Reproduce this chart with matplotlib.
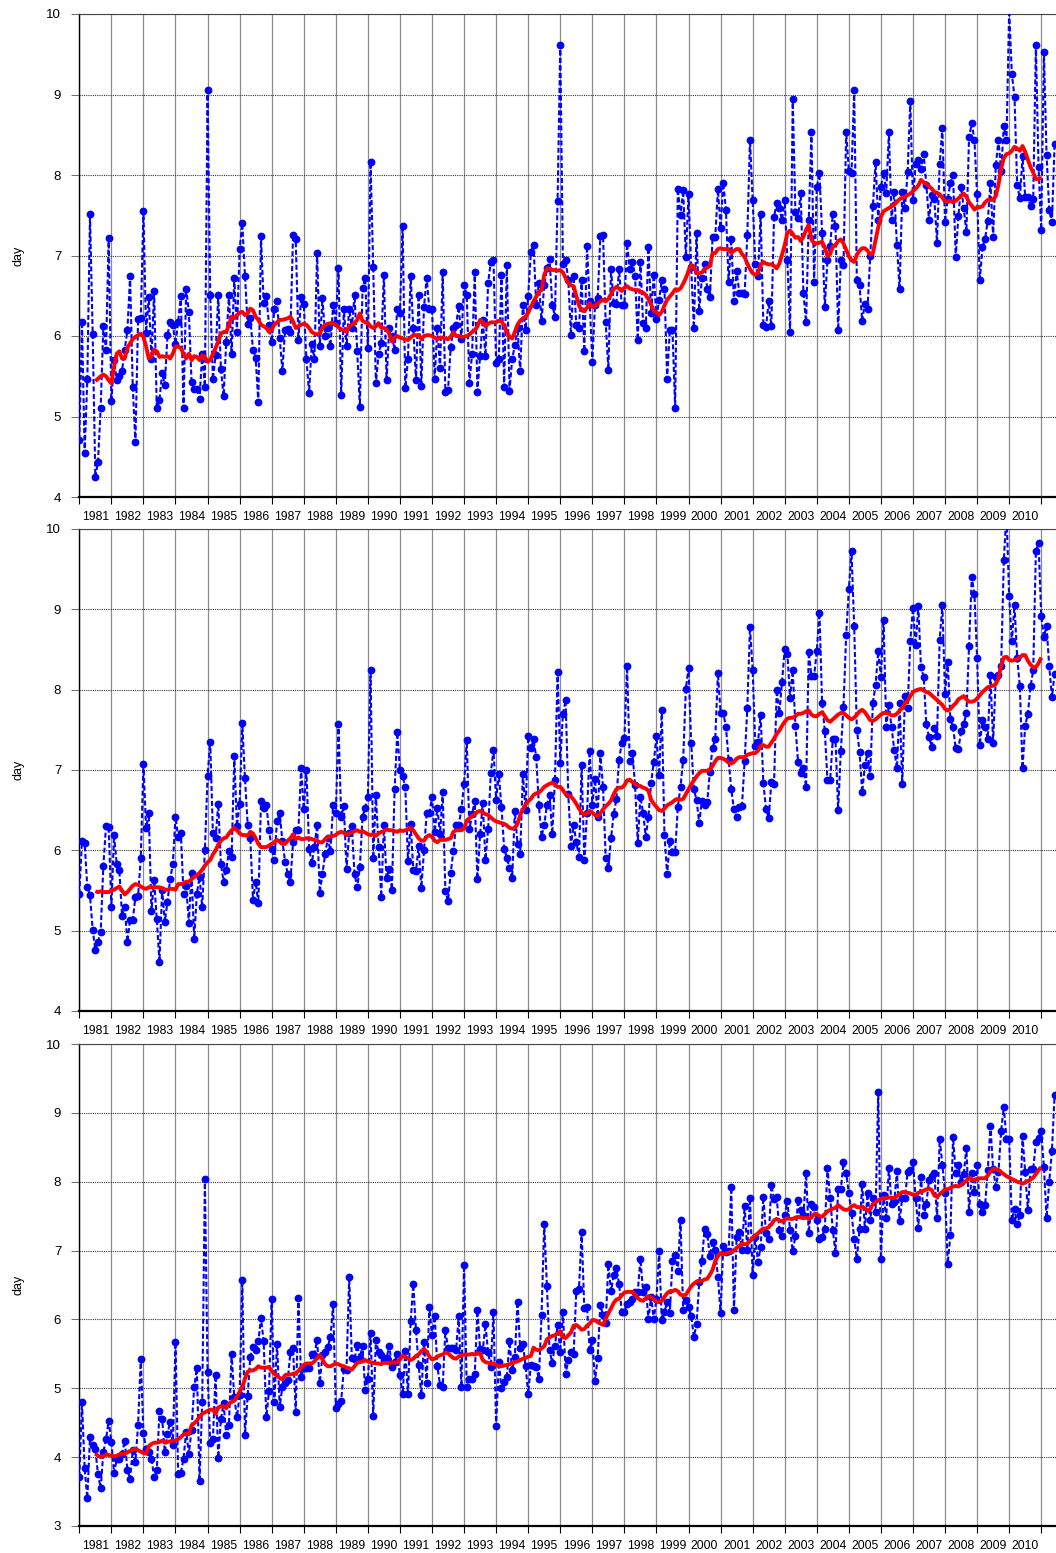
import numpy as np
import matplotlib
matplotlib.use("Agg")
from matplotlib import pyplot as plt
from matplotlib.ticker import FixedLocator, NullFormatter

plt.rcParams['font.family'] = ['Liberation Sans', 'DejaVu Sans']

# monthly values, Jan 1981 .. Jun 2011, one row per year
top_vals = [
    4.71, 6.18, 4.55, 5.46, 7.51, 6.03, 4.25, 4.44, 5.11, 6.12, 5.83, 7.22,
    5.19, 5.70, 5.45, 5.50, 5.57, 5.83, 6.07, 6.74, 5.37, 4.68, 6.21, 6.22,
    7.55, 6.04, 6.49, 5.71, 6.56, 5.10, 5.21, 5.54, 5.39, 6.01, 6.18, 6.14,
    5.90, 6.18, 6.50, 5.11, 6.59, 6.30, 5.43, 5.34, 5.34, 5.22, 5.78, 5.37,
    9.05, 6.51, 5.46, 5.76, 6.51, 5.59, 5.25, 5.93, 6.51, 5.78, 6.72, 6.05,
    7.08, 7.40, 6.75, 6.15, 6.22, 5.83, 5.73, 5.18, 7.24, 6.41, 6.50, 6.14,
    5.92, 6.34, 6.43, 5.97, 5.57, 6.07, 6.09, 6.05, 7.26, 7.20, 5.95, 6.48,
    6.40, 5.71, 5.29, 5.90, 5.72, 7.03, 5.87, 6.47, 6.00, 6.10, 5.87, 6.39,
    6.16, 6.84, 5.27, 6.34, 5.87, 6.34, 6.10, 6.51, 5.81, 5.12, 6.60, 6.72,
    5.85, 8.16, 6.86, 5.41, 5.78, 5.91, 6.76, 5.45, 6.10, 6.00, 5.83, 6.34,
    6.28, 7.37, 5.35, 5.72, 6.74, 6.10, 5.45, 6.51, 5.38, 6.36, 6.72, 6.34,
    6.34, 5.47, 6.10, 5.60, 6.79, 5.31, 5.33, 5.86, 6.10, 6.14, 6.37, 5.96,
    6.63, 6.51, 5.42, 5.78, 6.80, 5.31, 5.75, 6.20, 5.75, 6.66, 6.92, 6.95,
    5.67, 5.72, 6.76, 5.37, 6.88, 5.32, 5.71, 5.89, 6.10, 5.56, 6.39, 6.08,
    6.50, 7.04, 7.13, 6.39, 6.66, 6.19, 6.63, 6.84, 6.96, 6.39, 6.24, 7.68,
    9.61, 6.90, 6.94, 6.70, 6.01, 6.74, 6.14, 6.10, 6.70, 5.81, 7.12, 6.43,
    5.68, 6.39, 6.47, 7.24, 7.26, 6.17, 5.58, 6.83, 6.41, 6.40, 6.83, 6.39,
    6.39, 7.15, 6.83, 6.92, 6.75, 5.95, 6.92, 6.16, 6.10, 7.10, 6.28, 6.76,
    6.21, 6.45, 6.70, 6.59, 5.47, 6.07, 6.07, 5.10, 7.83, 7.50, 7.81, 6.98,
    7.76, 6.86, 6.10, 7.28, 6.31, 6.72, 6.90, 6.59, 6.48, 7.23, 7.23, 7.82,
    7.34, 7.90, 7.57, 6.67, 7.21, 6.43, 6.81, 6.54, 6.53, 6.52, 7.25, 8.44,
    7.69, 6.90, 6.75, 7.51, 6.14, 6.11, 6.43, 6.12, 7.48, 7.65, 7.59, 7.44,
    7.69, 6.94, 6.05, 8.95, 7.54, 7.47, 7.78, 6.53, 6.17, 7.44, 8.53, 6.67,
    7.85, 8.02, 7.28, 6.36, 6.95, 7.12, 7.52, 7.37, 6.07, 6.94, 6.88, 8.54,
    8.05, 8.03, 9.05, 6.69, 6.63, 6.19, 6.40, 6.34, 6.99, 7.61, 8.16, 7.44,
    7.85, 8.03, 7.78, 8.53, 7.44, 7.79, 7.13, 6.58, 7.79, 7.59, 8.04, 8.92,
    7.69, 8.14, 8.19, 8.08, 8.26, 7.88, 7.44, 7.75, 7.70, 7.16, 8.14, 8.58,
    7.41, 7.70, 7.90, 8.00, 6.98, 7.49, 7.85, 7.59, 7.29, 8.47, 8.64, 8.44,
    7.76, 6.69, 7.10, 7.21, 7.43, 7.90, 7.23, 8.12, 8.43, 8.05, 8.61, 8.43,
    10.05, 9.26, 8.97, 7.87, 7.71, 8.23, 7.73, 7.73, 7.61, 7.70, 9.61, 8.10,
    7.32, 9.53, 8.25, 7.56, 7.41, 8.39,
]

mid_vals = [
    5.46, 6.12, 6.09, 5.54, 5.44, 5.01, 4.76, 4.86, 4.98, 5.81, 6.30, 6.29,
    5.30, 6.19, 5.83, 5.75, 5.18, 5.29, 4.86, 5.13, 5.13, 5.42, 5.43, 5.90,
    7.07, 6.28, 6.46, 5.25, 5.63, 5.14, 4.61, 5.51, 5.11, 5.36, 5.64, 5.83,
    6.42, 6.16, 6.22, 5.46, 5.55, 5.10, 5.72, 4.90, 5.46, 5.67, 5.29, 6.00,
    6.92, 7.35, 6.21, 6.15, 6.58, 5.83, 5.61, 5.76, 5.99, 5.92, 7.17, 6.30,
    6.58, 7.58, 6.90, 6.32, 6.15, 5.38, 5.61, 5.34, 6.62, 6.53, 6.57, 6.25,
    6.02, 5.88, 6.37, 6.46, 6.12, 5.86, 5.71, 5.61, 6.10, 6.25, 6.25, 7.02,
    6.51, 7.00, 6.02, 5.84, 6.04, 6.32, 5.47, 5.71, 5.95, 6.15, 5.99, 6.57,
    6.46, 7.57, 6.42, 6.55, 5.77, 6.21, 6.30, 5.71, 5.54, 5.79, 6.42, 6.53,
    6.66, 8.25, 5.90, 6.69, 6.04, 5.42, 6.32, 5.65, 5.77, 5.51, 6.76, 7.47,
    7.00, 6.92, 6.79, 5.87, 6.33, 5.76, 5.74, 6.06, 5.53, 6.00, 6.46, 6.46,
    6.66, 6.23, 6.53, 6.20, 6.72, 5.49, 5.37, 5.72, 5.99, 6.32, 6.32, 6.51,
    6.83, 7.37, 6.26, 6.45, 6.62, 5.64, 6.20, 6.59, 5.88, 6.26, 6.96, 7.25,
    6.63, 6.95, 6.54, 6.02, 5.91, 5.78, 5.65, 6.49, 6.08, 5.95, 6.95, 6.50,
    7.42, 7.27, 7.38, 7.16, 6.56, 6.17, 6.32, 6.56, 6.69, 6.20, 6.87, 8.22,
    7.09, 7.70, 7.87, 6.70, 6.06, 6.32, 6.10, 5.92, 7.06, 5.88, 6.46, 7.24,
    6.56, 6.89, 6.42, 7.21, 6.79, 5.91, 5.78, 6.15, 6.45, 6.64, 7.12, 7.34,
    7.40, 8.29, 7.11, 7.21, 6.81, 6.09, 6.67, 6.46, 6.17, 6.42, 6.84, 7.10,
    7.42, 6.94, 7.75, 6.19, 5.70, 6.12, 5.98, 5.98, 6.54, 6.79, 7.13, 8.01,
    8.27, 7.34, 6.76, 6.63, 6.34, 6.62, 6.57, 6.60, 6.98, 7.28, 7.38, 8.21,
    7.71, 7.71, 7.54, 7.13, 6.76, 6.51, 6.42, 6.54, 6.55, 7.11, 7.77, 8.78,
    8.25, 7.30, 7.35, 7.68, 6.84, 6.52, 6.40, 6.85, 6.82, 8.00, 7.71, 8.10,
    8.51, 8.45, 7.90, 8.24, 7.55, 7.10, 6.96, 7.02, 6.79, 8.47, 8.17, 8.17,
    8.48, 8.96, 7.83, 7.49, 6.87, 6.87, 7.39, 7.38, 6.50, 7.24, 7.79, 8.68,
    9.25, 9.72, 8.79, 7.50, 7.23, 6.72, 7.06, 7.21, 6.92, 7.84, 8.06, 8.48,
    8.16, 8.87, 7.54, 7.81, 7.53, 7.25, 7.02, 7.83, 6.83, 7.92, 7.77, 8.61,
    9.02, 8.55, 9.04, 8.28, 8.16, 7.57, 7.41, 7.29, 7.52, 7.42, 8.62, 9.05,
    7.95, 8.35, 7.63, 7.53, 7.27, 7.26, 7.48, 7.57, 7.71, 8.54, 9.40, 9.19,
    8.40, 7.31, 7.62, 7.53, 7.39, 8.18, 7.34, 8.16, 8.18, 8.30, 9.61, 10.2,
    9.16, 8.60, 9.05, 8.40, 8.04, 7.02, 7.55, 7.70, 8.04, 8.24, 9.72, 9.83,
    8.92, 8.66, 8.79, 8.29, 7.91, 8.20,
]

low_vals = [
    3.71, 4.80, 3.84, 3.40, 4.29, 4.18, 4.12, 3.75, 3.55, 4.07, 4.26, 4.53,
    4.22, 3.77, 3.97, 3.98, 4.05, 4.24, 3.82, 3.68, 4.10, 3.93, 4.47, 5.43,
    4.35, 4.12, 4.07, 3.98, 3.71, 3.81, 4.67, 4.56, 4.07, 4.34, 4.51, 4.17,
    5.67, 3.75, 3.77, 3.98, 4.37, 4.05, 4.39, 5.02, 5.29, 3.65, 4.80, 8.04,
    5.24, 4.20, 4.26, 5.19, 3.99, 4.55, 4.78, 4.32, 4.47, 5.50, 4.87, 4.58,
    4.90, 6.57, 4.32, 4.89, 5.46, 5.60, 5.55, 5.68, 6.02, 5.68, 4.58, 4.96,
    6.30, 4.80, 5.65, 4.73, 5.02, 5.07, 5.12, 5.52, 5.58, 4.66, 6.31, 5.16,
    5.29, 5.29, 5.30, 5.50, 5.49, 5.70, 5.08, 5.48, 5.53, 5.60, 5.75, 6.22,
    4.72, 4.77, 4.81, 5.28, 5.26, 6.62, 5.44, 5.42, 5.63, 5.44, 5.62, 4.97,
    5.14, 5.81, 4.60, 5.70, 5.53, 5.48, 5.41, 5.44, 5.62, 5.31, 5.38, 5.50,
    5.19, 4.91, 5.54, 4.91, 5.97, 6.51, 5.84, 5.34, 4.90, 5.67, 5.07, 6.18,
    5.77, 6.05, 5.32, 5.05, 5.02, 5.84, 5.58, 5.58, 5.58, 5.55, 6.05, 5.02,
    6.79, 5.02, 5.14, 5.14, 5.21, 6.13, 5.57, 5.55, 5.93, 5.52, 5.31, 6.11,
    4.45, 5.38, 5.00, 5.09, 5.16, 5.68, 5.26, 5.46, 6.26, 5.58, 5.65, 5.33,
    4.92, 5.34, 5.33, 5.31, 5.14, 6.07, 7.39, 6.49, 5.55, 5.37, 5.62, 5.92,
    5.53, 6.11, 5.21, 5.41, 5.52, 5.50, 6.42, 6.44, 7.27, 6.16, 6.18, 5.55,
    5.70, 5.11, 5.44, 6.21, 6.06, 5.95, 6.80, 6.41, 6.65, 6.74, 6.52, 6.11,
    6.11, 6.22, 6.26, 6.29, 6.40, 6.40, 6.88, 6.40, 6.47, 6.00, 6.33, 6.00,
    6.30, 6.99, 5.99, 6.11, 6.25, 6.10, 6.85, 6.93, 6.70, 7.44, 6.13, 6.28,
    6.18, 6.05, 5.75, 5.93, 6.54, 6.85, 7.31, 7.24, 6.92, 7.12, 7.01, 6.62,
    6.10, 7.07, 6.98, 6.99, 7.92, 6.13, 7.19, 7.27, 7.01, 7.65, 7.01, 7.76,
    6.65, 7.19, 6.84, 7.05, 7.78, 7.25, 7.17, 7.95, 7.75, 7.78, 7.30, 7.21,
    7.51, 7.72, 7.30, 6.99, 7.21, 7.74, 7.59, 7.51, 8.12, 7.25, 7.68, 7.64,
    7.44, 7.17, 7.20, 7.32, 8.20, 7.77, 7.30, 6.97, 7.89, 7.89, 8.28, 8.13,
    7.83, 7.55, 7.17, 6.88, 7.31, 7.97, 7.31, 7.83, 7.44, 7.77, 7.56, 9.31,
    6.88, 7.81, 7.48, 8.20, 7.68, 7.71, 8.15, 7.43, 7.77, 7.76, 8.14, 8.17,
    8.29, 7.76, 7.33, 8.07, 7.51, 7.68, 8.02, 8.09, 8.13, 7.47, 8.62, 8.25,
    7.84, 6.81, 7.22, 8.65, 8.13, 8.25, 8.00, 8.11, 8.49, 7.56, 8.13, 7.85,
    8.24, 7.68, 7.56, 7.66, 8.17, 8.81, 8.18, 7.93, 8.14, 8.74, 9.09, 8.62,
    8.62, 7.44, 7.61, 7.38, 7.51, 8.66, 8.14, 7.59, 8.18, 8.18, 8.57, 8.64,
    8.73, 8.22, 7.47, 8.00, 8.44, 9.26,
]

# 12-month running mean as drawn, months 7 .. 361 (Jul 1981 .. Jan 2011)
top_avg = [
    5.44, 5.47, 5.50, 5.52, 5.50, 5.45, 5.41, 5.62, 5.78, 5.81, 5.72, 5.72,
    5.85, 5.91, 5.96, 5.99, 6.01, 6.03, 5.99, 5.87, 5.72, 5.75, 5.83, 5.81,
    5.74, 5.75, 5.74, 5.75, 5.72, 5.78, 5.87, 5.87, 5.85, 5.78, 5.72, 5.78,
    5.70, 5.75, 5.74, 5.70, 5.76, 5.74, 5.68, 5.70, 5.78, 5.85, 5.93, 6.03,
    6.05, 6.05, 6.14, 6.24, 6.22, 6.26, 6.29, 6.30, 6.26, 6.28, 6.34, 6.32,
    6.24, 6.20, 6.14, 6.12, 6.10, 6.05, 6.08, 6.14, 6.17, 6.20, 6.20, 6.21,
    6.22, 6.24, 6.18, 6.10, 6.12, 6.14, 6.15, 6.14, 6.10, 6.05, 6.03, 6.02,
    6.03, 6.10, 6.14, 6.15, 6.16, 6.16, 6.14, 6.11, 6.08, 6.07, 6.05, 6.12,
    6.14, 6.16, 6.20, 6.28, 6.19, 6.17, 6.16, 6.12, 6.10, 6.12, 6.16, 6.10,
    6.10, 6.08, 6.03, 5.93, 5.98, 6.00, 5.98, 5.97, 5.96, 5.95, 5.98, 6.01,
    6.01, 6.01, 5.96, 6.00, 6.01, 6.01, 6.00, 5.98, 5.96, 5.98, 5.98, 5.97,
    5.96, 5.99, 6.05, 6.00, 6.00, 5.99, 5.99, 6.00, 6.02, 6.05, 6.07, 6.12,
    6.20, 6.18, 6.12, 6.15, 6.17, 6.17, 6.17, 6.19, 6.18, 6.13, 6.05, 5.99,
    5.97, 6.05, 6.14, 6.19, 6.22, 6.24, 6.29, 6.36, 6.43, 6.49, 6.55, 6.57,
    6.76, 6.84, 6.84, 6.82, 6.82, 6.81, 6.82, 6.79, 6.72, 6.66, 6.63, 6.62,
    6.50, 6.38, 6.32, 6.31, 6.35, 6.41, 6.36, 6.37, 6.40, 6.43, 6.45, 6.43,
    6.46, 6.52, 6.58, 6.61, 6.59, 6.56, 6.60, 6.62, 6.59, 6.58, 6.57, 6.57,
    6.55, 6.54, 6.51, 6.46, 6.39, 6.31, 6.30, 6.26, 6.30, 6.38, 6.45, 6.49,
    6.53, 6.58, 6.57, 6.59, 6.65, 6.72, 6.81, 6.88, 6.86, 6.78, 6.78, 6.79,
    6.83, 6.85, 6.87, 7.03, 7.03, 7.08, 7.09, 7.08, 7.08, 7.08, 7.03, 7.06,
    7.08, 7.08, 7.02, 6.98, 6.90, 6.83, 6.78, 6.76, 6.78, 6.88, 6.92, 6.90,
    6.89, 6.89, 6.87, 6.84, 6.90, 7.01, 7.13, 7.28, 7.31, 7.27, 7.22, 7.23,
    7.18, 7.23, 7.32, 7.38, 7.20, 7.15, 7.15, 7.16, 7.17, 7.10, 6.99, 7.02,
    7.11, 7.13, 7.18, 7.20, 7.15, 7.07, 6.99, 6.94, 6.92, 7.01, 7.06, 7.09,
    7.09, 7.06, 7.01, 7.03, 7.19, 7.35, 7.48, 7.55, 7.57, 7.59, 7.61, 7.63,
    7.67, 7.70, 7.72, 7.73, 7.75, 7.77, 7.80, 7.83, 7.87, 7.94, 7.91, 7.89,
    7.86, 7.83, 7.79, 7.78, 7.76, 7.72, 7.67, 7.67, 7.68, 7.66, 7.68, 7.71,
    7.74, 7.77, 7.73, 7.66, 7.62, 7.57, 7.60, 7.60, 7.61, 7.66, 7.69, 7.69,
    7.69, 7.74, 7.88, 8.08, 8.21, 8.26, 8.27, 8.30, 8.35, 8.33, 8.30, 8.36,
    8.29, 8.19, 8.10, 8.03, 7.95, 7.95, 7.97,
]

mid_avg = [
    5.49, 5.48, 5.49, 5.48, 5.48, 5.48, 5.50, 5.51, 5.53, 5.55, 5.50, 5.45,
    5.48, 5.52, 5.56, 5.58, 5.57, 5.55, 5.53, 5.52, 5.54, 5.54, 5.54, 5.54,
    5.54, 5.53, 5.51, 5.51, 5.52, 5.52, 5.51, 5.58, 5.58, 5.59, 5.61, 5.61,
    5.64, 5.67, 5.69, 5.72, 5.76, 5.81, 5.85, 5.88, 5.95, 6.00, 6.07, 6.12,
    6.15, 6.16, 6.21, 6.25, 6.28, 6.25, 6.21, 6.19, 6.19, 6.18, 6.23, 6.21,
    6.15, 6.08, 6.04, 6.04, 6.04, 6.06, 6.08, 6.10, 6.13, 6.11, 6.08, 6.08,
    6.12, 6.15, 6.20, 6.14, 6.16, 6.14, 6.14, 6.15, 6.15, 6.14, 6.13, 6.12,
    6.10, 6.10, 6.14, 6.17, 6.17, 6.18, 6.19, 6.22, 6.23, 6.22, 6.19, 6.21,
    6.22, 6.24, 6.25, 6.23, 6.24, 6.22, 6.20, 6.19, 6.20, 6.18, 6.21, 6.23,
    6.24, 6.26, 6.25, 6.25, 6.24, 6.23, 6.25, 6.24, 6.25, 6.26, 6.28, 6.25,
    6.20, 6.15, 6.12, 6.12, 6.17, 6.19, 6.17, 6.12, 6.10, 6.13, 6.13, 6.13,
    6.14, 6.15, 6.23, 6.25, 6.25, 6.25, 6.27, 6.37, 6.40, 6.43, 6.45, 6.48,
    6.49, 6.47, 6.45, 6.44, 6.41, 6.38, 6.36, 6.35, 6.34, 6.33, 6.31, 6.28,
    6.27, 6.28, 6.33, 6.44, 6.51, 6.57, 6.61, 6.64, 6.69, 6.71, 6.72, 6.75,
    6.79, 6.81, 6.83, 6.84, 6.82, 6.79, 6.79, 6.75, 6.70, 6.68, 6.67, 6.63,
    6.58, 6.52, 6.47, 6.44, 6.46, 6.49, 6.47, 6.44, 6.42, 6.46, 6.51, 6.55,
    6.58, 6.62, 6.70, 6.76, 6.78, 6.78, 6.81, 6.87, 6.88, 6.85, 6.83, 6.81,
    6.80, 6.78, 6.77, 6.74, 6.63, 6.58, 6.54, 6.50, 6.49, 6.52, 6.56, 6.58,
    6.60, 6.63, 6.64, 6.63, 6.64, 6.70, 6.76, 6.82, 6.87, 6.92, 6.96, 6.99,
    6.99, 6.99, 7.01, 7.05, 7.11, 7.15, 7.15, 7.14, 7.12, 7.09, 7.08, 7.10,
    7.14, 7.16, 7.16, 7.16, 7.19, 7.20, 7.21, 7.21, 7.24, 7.30, 7.31, 7.29,
    7.29, 7.34, 7.39, 7.45, 7.49, 7.55, 7.60, 7.64, 7.65, 7.65, 7.67, 7.70,
    7.70, 7.71, 7.73, 7.74, 7.69, 7.67, 7.67, 7.70, 7.72, 7.67, 7.62, 7.60,
    7.63, 7.66, 7.69, 7.71, 7.71, 7.68, 7.65, 7.63, 7.65, 7.69, 7.73, 7.75,
    7.72, 7.67, 7.62, 7.61, 7.63, 7.66, 7.69, 7.71, 7.71, 7.70, 7.68, 7.68,
    7.70, 7.74, 7.77, 7.83, 7.86, 7.92, 7.97, 7.99, 8.00, 8.01, 7.99, 7.97,
    7.96, 7.93, 7.90, 7.87, 7.84, 7.81, 7.76, 7.74, 7.76, 7.80, 7.83, 7.88,
    7.90, 7.92, 7.88, 7.85, 7.85, 7.86, 7.89, 7.93, 7.97, 8.00, 8.03, 8.04,
    8.05, 8.07, 8.14, 8.30, 8.40, 8.41, 8.37, 8.36, 8.37, 8.38, 8.40, 8.43,
    8.43, 8.36, 8.31, 8.28, 8.28, 8.33, 8.40,
]

low_avg = [
    4.05, 4.02, 4.00, 4.01, 4.04, 4.03, 4.02, 4.01, 4.02, 4.04, 4.05, 4.05,
    4.07, 4.09, 4.11, 4.12, 4.10, 4.08, 4.06, 4.05, 4.16, 4.19, 4.21, 4.21,
    4.22, 4.24, 4.21, 4.22, 4.23, 4.24, 4.24, 4.26, 4.29, 4.33, 4.34, 4.33,
    4.46, 4.49, 4.53, 4.59, 4.63, 4.65, 4.67, 4.69, 4.69, 4.63, 4.72, 4.74,
    4.74, 4.71, 4.78, 4.80, 4.82, 4.88, 4.95, 5.02, 5.14, 5.24, 5.26, 5.26,
    5.28, 5.32, 5.30, 5.30, 5.30, 5.31, 5.25, 5.21, 5.18, 5.15, 5.13, 5.19,
    5.20, 5.20, 5.21, 5.22, 5.25, 5.30, 5.34, 5.36, 5.36, 5.36, 5.39, 5.44,
    5.48, 5.42, 5.35, 5.32, 5.32, 5.34, 5.36, 5.35, 5.33, 5.32, 5.30, 5.29,
    5.27, 5.32, 5.37, 5.38, 5.39, 5.41, 5.39, 5.38, 5.37, 5.36, 5.36, 5.35,
    5.37, 5.37, 5.36, 5.38, 5.37, 5.38, 5.42, 5.47, 5.46, 5.43, 5.41, 5.43,
    5.47, 5.49, 5.54, 5.57, 5.53, 5.46, 5.42, 5.43, 5.46, 5.48, 5.49, 5.52,
    5.51, 5.47, 5.44, 5.43, 5.46, 5.48, 5.49, 5.49, 5.49, 5.50, 5.49, 5.50,
    5.51, 5.41, 5.38, 5.37, 5.36, 5.36, 5.34, 5.32, 5.32, 5.33, 5.34, 5.35,
    5.37, 5.38, 5.39, 5.41, 5.43, 5.44, 5.46, 5.47, 5.59, 5.56, 5.55, 5.58,
    5.61, 5.71, 5.74, 5.76, 5.77, 5.80, 5.83, 5.74, 5.73, 5.77, 5.81, 5.91,
    5.92, 5.89, 5.85, 5.86, 5.91, 5.94, 5.99, 5.99, 5.96, 5.94, 5.92, 6.01,
    6.09, 6.16, 6.24, 6.29, 6.30, 6.35, 6.39, 6.40, 6.40, 6.40, 6.36, 6.31,
    6.28, 6.27, 6.31, 6.34, 6.32, 6.29, 6.26, 6.25, 6.27, 6.33, 6.38, 6.41,
    6.41, 6.43, 6.41, 6.36, 6.35, 6.36, 6.42, 6.48, 6.52, 6.55, 6.56, 6.56,
    6.58, 6.59, 6.65, 6.72, 6.85, 6.92, 6.96, 6.95, 6.96, 6.97, 6.98, 7.00,
    7.04, 7.07, 7.10, 7.09, 7.10, 7.14, 7.19, 7.22, 7.25, 7.29, 7.32, 7.32,
    7.34, 7.38, 7.44, 7.46, 7.44, 7.42, 7.45, 7.47, 7.46, 7.46, 7.48, 7.49,
    7.48, 7.47, 7.48, 7.46, 7.48, 7.53, 7.53, 7.50, 7.49, 7.53, 7.57, 7.59,
    7.61, 7.62, 7.66, 7.63, 7.60, 7.59, 7.60, 7.64, 7.66, 7.63, 7.63, 7.64,
    7.61, 7.58, 7.60, 7.68, 7.70, 7.73, 7.75, 7.76, 7.76, 7.77, 7.77, 7.76,
    7.79, 7.82, 7.85, 7.85, 7.84, 7.83, 7.81, 7.81, 7.84, 7.85, 7.87, 7.89,
    7.90, 7.88, 7.80, 7.78, 7.82, 7.85, 7.89, 7.89, 7.91, 7.93, 7.94, 7.93,
    7.95, 7.99, 8.01, 8.06, 8.03, 8.03, 8.04, 8.05, 8.05, 8.05, 8.09, 8.15,
    8.19, 8.18, 8.17, 8.14, 8.11, 8.08, 8.06, 8.04, 8.02, 8.00, 7.99, 7.97,
    7.99, 8.01, 8.03, 8.06, 8.11, 8.17, 8.21,
]

avg_start = 6  # month index of the first running-mean value

year_labels = [str(y) for y in range(1981, 2011)]

panels = [
    (top_vals, top_avg, (4, 10)),
    (mid_vals, mid_avg, (4, 10)),
    (low_vals, low_avg, (3, 10)),
]

# axes boxes in pixels: top, bottom
W, H = 1056, 1553
boxes = [(14, 497), (529, 1011), (1044, 1526)]
x0 = 79.3
px_per_month = 2.672

fig = plt.figure(figsize=(W / 100, H / 100), dpi=100)

for (vals, avg, ylim), (top, bot) in zip(panels, boxes):
    ax = fig.add_axes([x0 / W, 1 - bot / H, (W - x0) / W, (bot - top) / H])
    months = np.arange(len(vals))
    avg_months = np.arange(avg_start, avg_start + len(avg))

    ax.plot(months, vals, color='#0000ff', lw=1.5, ls='--', dashes=(2.4, 1.2),
            marker='o', ms=4.6, mec='#0000ff', mfc='#0000ff', zorder=3)
    ax.plot(avg_months, avg, color='#ff0000', lw=2.8, solid_capstyle='butt',
            solid_joinstyle='round', zorder=4)

    ax.set_xlim(0, (W - x0) / px_per_month)
    ax.set_ylim(*ylim)

    ax.xaxis.set_major_locator(FixedLocator(np.arange(0, 361, 12)))
    ax.xaxis.set_major_formatter(NullFormatter())
    ax.xaxis.set_minor_locator(FixedLocator(np.arange(6, 360, 12)))
    ax.set_xticklabels(year_labels, minor=True)
    ax.tick_params(axis='x', which='major', length=5, width=0.8, direction='out')
    ax.tick_params(axis='x', which='minor', length=0, labelsize=8.8, pad=10)
    ax.set_yticks(np.arange(ylim[0], ylim[1] + 1, 1))
    ax.tick_params(axis='y', length=6, width=0.6, labelsize=9.5, pad=7, color='#555555')

    ax.grid(True, axis='x', which='major', color='#8c8c8c', lw=0.9, ls='-')
    ax.grid(True, axis='y', color='#333333', lw=0.8, ls=(0, (1, 1)))
    ax.set_axisbelow(True)

    ax.spines['right'].set_visible(False)
    ax.spines['top'].set_color('#444444')
    ax.spines['top'].set_linewidth(0.8)
    ax.spines['left'].set_linewidth(1.0)
    ax.spines['bottom'].set_linewidth(1.6)

    ax.set_ylabel('day', fontsize=9, labelpad=16)

fig.savefig('out.png', dpi=100)
